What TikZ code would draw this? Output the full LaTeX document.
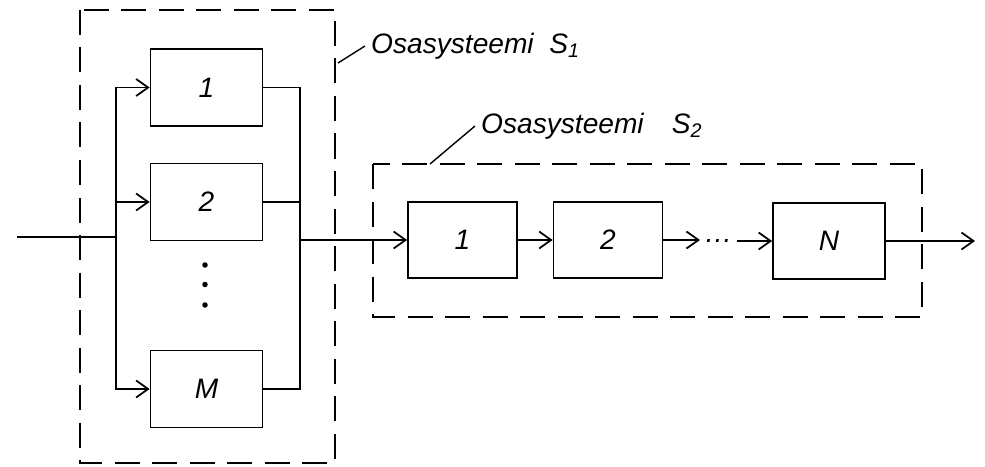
\documentclass[tikz,border=0pt]{standalone}
\usepackage{fontspec}
\setmainfont{Liberation Sans}
\usetikzlibrary{arrows.meta}
\begin{document}
\begin{tikzpicture}[every node/.style={font=\fontsize{16}{19}\selectfont\itshape},
  blk/.style={draw, line width=1pt, minimum width=2.24cm, minimum height=1.54cm, inner sep=0pt},
  sub/.style={draw, line width=0.9pt, dash pattern=on 5mm off 2.5mm},
  dot/.style={circle, fill, inner sep=0pt, minimum size=1.1mm},
  wire/.style={line width=1pt},
  arr/.style={line width=1pt, -{Straight Barb[length=2.4mm, width=3.4mm]}}]
\useasboundingbox (0,0) rectangle (19.7,9.32);
\node[blk] (a1) at (4.13,7.57) {1};
\node[blk] (a2) at (4.13,5.28) {2};
\node[blk] (am) at (4.13,1.54) {M};
\node[dot] (v1) at (4.10,4.02) {};
\node[dot] (v2) at (4.10,3.63) {};
\node[dot] (v3) at (4.10,3.22) {};
\node[blk, minimum width=2.18cm, minimum height=1.52cm] (b1) at (9.25,4.52) {1};
\node[blk, minimum width=2.18cm, minimum height=1.52cm] (b2) at (12.16,4.52) {2};
\node[blk, minimum width=2.24cm, minimum height=1.52cm] (bn) at (16.58,4.50) {N};
\node[inner sep=0pt] (dots) at (14.37,4.50) {\dots};
\coordinate (in) at (0.34,4.58);
\coordinate (split) at (2.32,4.58);
\coordinate (join) at (6.00,4.52);
\coordinate (d1) at (14.00,4.52);
\coordinate (d2) at (14.74,4.50);
\coordinate (out) at (19.50,4.50);
\draw[sub] (1.60,9.12) rectangle (6.70,0.06);
\draw[sub] (7.46,6.04) rectangle (18.44,2.98);
\draw[wire] (in) -- (split);
\draw[arr] (split) |- (a1.west);
\draw[arr] (split) |- (a2.west);
\draw[arr] (split) |- (am.west);
\draw[wire] (a1.east) -| (join);
\draw[wire] (a2.east) -| (join);
\draw[wire] (am.east) -| (join);
\draw[arr] (join) -- (b1.west);
\draw[arr] (b1.east) -- (b2.west);
\draw[arr] (b2.east) -- (d1);
\draw[arr] (d2) -- (bn.west);
\draw[arr] (bn.east) -- (out);
\coordinate (p1) at (6.76,8.06);
\coordinate (p2) at (8.60,6.04);
\node[anchor=west] (s1) at (7.30,8.40) {Osasysteemi~~S\textsubscript{1}};
\node[anchor=west] (s2) at (9.50,6.80) {Osasysteemi\quad S\textsubscript{2}};
\draw[line width=0.8pt] (p1) -- (s1.west);
\draw[line width=0.8pt] (p2) -- (s2.west);
\end{tikzpicture}
\end{document}
